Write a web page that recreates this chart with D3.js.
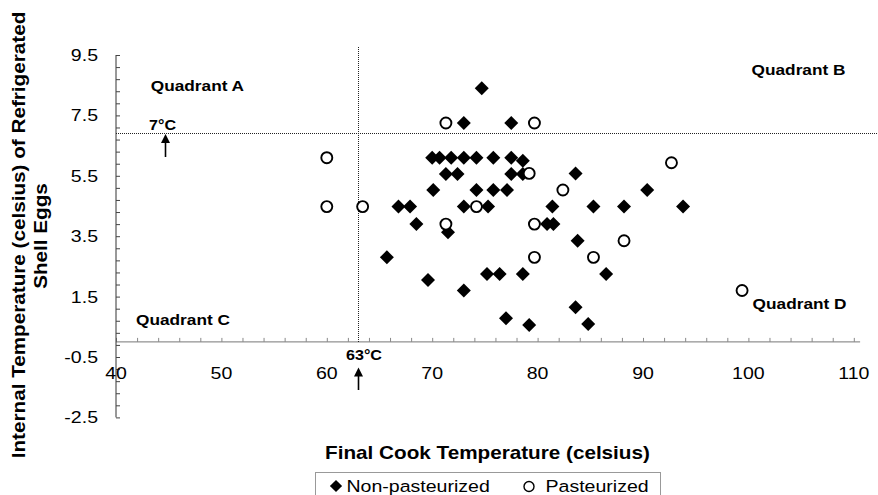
<!DOCTYPE html>
<html>
<head>
<meta charset="utf-8">
<script src="https://cdn.jsdelivr.net/npm/d3@7"></script>
<style>
  html, body { margin: 0; padding: 0; background: #fff; }
  svg { display: block; }
  text { font-family: "Liberation Sans", Arial, sans-serif; fill: #000; }
</style>
</head>
<body>
<svg id="chart" width="878" height="495"></svg>
<script>
// ---- data ----
const xTicks = [40, 50, 60, 70, 80, 90, 100, 110];
const yTicks = [9.5, 7.5, 5.5, 3.5, 1.5, -0.5, -2.5];
const yTickLabels = ["9.5", "7.5", "5.5", "3.5", "1.5", "-0.5", "-2.5"];

const nonPastX = [74.7, 73.0, 77.5,
  70.0, 70.7, 71.8, 73.0, 74.2, 75.8, 77.5,
  78.6,
  71.3, 72.4, 77.5, 78.6, 83.6,
  70.1, 74.2, 75.8, 77.1, 90.4,
  66.8, 67.9, 73.0, 75.3, 81.4, 85.3, 88.2, 93.8,
  68.5, 80.9, 81.5,
  71.5, 83.8, 65.7,
  75.2, 76.4, 78.6, 86.5,
  69.6, 73.0, 83.6, 77.0, 79.2, 84.8];
const nonPastY = [8.4, 7.25, 7.25,
  6.1, 6.1, 6.1, 6.1, 6.1, 6.1, 6.1,
  6.0,
  5.56, 5.56, 5.56, 5.56, 5.58,
  5.03, 5.03, 5.03, 5.03, 5.03,
  4.48, 4.48, 4.48, 4.48, 4.48, 4.48, 4.48, 4.48,
  3.9, 3.9, 3.9,
  3.63, 3.35, 2.8,
  2.25, 2.25, 2.25, 2.25,
  2.05, 1.7, 1.15, 0.78, 0.56, 0.59];

const pastX = [60.0, 60.0, 63.4, 71.3, 79.7, 71.3, 74.2, 79.2, 82.4, 92.7, 79.7, 88.2, 79.7, 85.3, 99.4];
const pastY = [6.1, 4.48, 4.48, 7.25, 7.25, 3.9, 4.48, 5.58, 5.03, 5.93, 3.9, 3.35, 2.8, 2.8, 1.7];

const thresholdCook = 63;     // vertical reference line (°C)
const thresholdStore = 6.93;  // horizontal reference line (drawn at ~7°C)
const seriesNames = ["Non-pasteurized", "Pasteurized"];
const quadrants = [
  {name: "Quadrant A", x: 43.3, y: 8.3},
  {name: "Quadrant B", x: 100.3, y: 8.85},
  {name: "Quadrant C", x: 41.9, y: 0.55},
  {name: "Quadrant D", x: 100.4, y: 1.1}
];

// ---- layout ----
const svg = d3.select("#chart");
const SX = 1.15; // horizontal stretch of the original lettering
const x = d3.scaleLinear().domain([40, 110]).range([116, 853.8]);
const y = d3.scaleLinear().domain([-2.5, 9.5]).range([417.4, 55]);

function label(sel, px, py, str, size, weight, anchor, rot) {
  return sel.append("text")
    .attr("transform", `translate(${px},${py})${rot ? " rotate(-90)" : ""} scale(${SX},1)`)
    .attr("text-anchor", anchor || "start")
    .attr("font-size", size)
    .attr("font-weight", weight || "normal")
    .text(str);
}

// ---- axes ----
const gx = svg.append("g").attr("transform", `translate(0,${y(0)})`);
gx.call(d3.axisTop(x).tickValues(d3.range(40, 111, 2)).tickSize(4).tickFormat(""));
gx.select(".domain").attr("stroke", "#777").attr("d", `M${x(40)},0H${x(110.6)}`);
gx.selectAll(".tick line").attr("stroke", "#888");

const gy = svg.append("g").attr("transform", `translate(${x(40)},0)`);
gy.call(d3.axisRight(y).tickValues(d3.range(0, 31).map(k => 9.5 - 0.4 * k)).tickSize(4).tickFormat(""));
gy.select(".domain").attr("stroke", "#333").attr("d", `M0,${y(9.5)}V${y(-2.5)}`);
gy.selectAll(".tick line").attr("stroke", "#444");

// tick labels
xTicks.forEach(v => label(svg, x(v), 378.5, String(v), 17, "normal", "middle"));
yTicks.forEach((v, i) => label(svg, 98, y(v) + 6, yTickLabels[i], 17, "normal", "end"));

// ---- reference lines ----
const hy = Math.round(y(thresholdStore)) + 0.5;
svg.append("line")
  .attr("x1", x(40)).attr("x2", 878)
  .attr("y1", hy).attr("y2", hy)
  .attr("stroke", "#222").attr("stroke-width", 1).attr("stroke-dasharray", "1,1");
const vx = Math.round(x(thresholdCook)) + 0.5;
svg.append("line")
  .attr("x1", vx).attr("x2", vx)
  .attr("y1", Math.round(y(9.75))).attr("y2", Math.round(y(0)))
  .attr("stroke", "#222").attr("stroke-width", 1).attr("stroke-dasharray", "1,1");

// arrows + labels
function arrowUp(px, tipY, tailY) {
  svg.append("line").attr("x1", px).attr("x2", px).attr("y1", tipY + 6).attr("y2", tailY)
    .attr("stroke", "#000").attr("stroke-width", 1.6);
  svg.append("path").attr("d", `M${px},${tipY}L${px - 4.5},${tipY + 9}L${px + 4.5},${tipY + 9}Z`)
    .attr("fill", "#000");
}
label(svg, 162.5, 130, "7°C", 14, "bold", "middle");
arrowUp(165.5, hy + 0.5, 157);
label(svg, 364, 360, "63°C", 14, "bold", "middle");
arrowUp(vx, 367.5, 390);

// quadrant labels
quadrants.forEach(q => label(svg, x(q.x), y(q.y), q.name, 15, "bold", "start"));

// ---- marks ----
const diamond = d3.symbol().type(d3.symbolSquare).size(98);
svg.append("g").selectAll("path")
  .data(nonPastX.map((v, i) => [v, nonPastY[i]]))
  .join("path")
  .attr("d", diamond)
  .attr("transform", d => `translate(${x(d[0])},${y(d[1])}) rotate(45)`)
  .attr("fill", "#000");

svg.append("g").selectAll("circle")
  .data(pastX.map((v, i) => [v, pastY[i]]))
  .join("circle")
  .attr("cx", d => x(d[0])).attr("cy", d => y(d[1]))
  .attr("r", 5.5)
  .attr("fill", "#fff").attr("stroke", "#000").attr("stroke-width", 1.9);

// ---- axis titles ----
label(svg, 487.5, 458.5, "Final Cook Temperature (celsius)", 18, "bold", "middle");
label(svg, 25, 235, "Internal Temperature (celsius) of Refrigerated", 18, "bold", "middle", true);
label(svg, 47, 236, "Shell Eggs", 18, "bold", "middle", true);

// ---- legend ----
const lg = svg.append("g");
lg.append("rect").attr("x", 315.5).attr("y", 472.5).attr("width", 345).attr("height", 40)
  .attr("fill", "none").attr("stroke", "#999").attr("stroke-width", 1);
lg.append("path").attr("d", d3.symbol().type(d3.symbolSquare).size(75))
  .attr("transform", "translate(336,486) rotate(45)").attr("fill", "#000");
label(lg, 346.5, 491.5, seriesNames[0], 17, "normal", "start");
lg.append("circle").attr("cx", 529).attr("cy", 486.5).attr("r", 5)
  .attr("fill", "#fff").attr("stroke", "#000").attr("stroke-width", 1.4);
label(lg, 545.5, 491.5, seriesNames[1], 17, "normal", "start");
</script>
</body>
</html>
